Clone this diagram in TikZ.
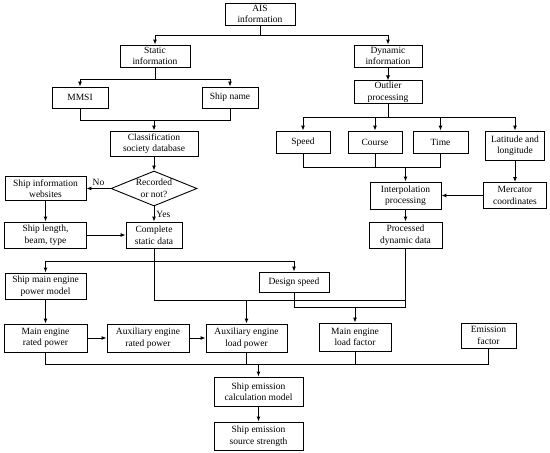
\documentclass[tikz,border=0pt]{standalone}
\usepackage{fontspec}
\setmainfont{Liberation Serif}
\usetikzlibrary{arrows.meta, shapes.geometric}

\tikzset{
  box/.style 2 args={rectangle, draw, line width=0.9pt, align=center, inner sep=1pt,
                     minimum width=#1, minimum height=#2, font=\fontsize{9.5}{11.5}\selectfont},
  decision/.style={diamond, draw, line width=0.9pt, align=center, inner sep=-2pt, aspect=2.46,
                   minimum width=86pt, minimum height=35pt, font=\fontsize{9.5}{11.5}\selectfont},
  arrow/.style={-{Latex[length=5pt, width=4pt]}, line width=0.9pt},
  link/.style={line width=0.9pt},
  tag/.style={font=\fontsize{9.5}{11.5}\selectfont, inner sep=2pt},
}

\begin{document}
\begin{tikzpicture}[x=1pt, y=-1pt]
  \useasboundingbox (0,0) rectangle (550,453);

  % AIS source
  \node[box={70pt}{22pt}] (ais) at (260,14) {AIS\\information};

  % Static branch
  \node[box={70pt}{22pt}] (static)   at (155,56)    {Static\\information};
  \node[box={56pt}{21pt}] (mmsi)     at (80,97.5)   {MMSI};
  \node[box={56pt}{21pt}] (shipname) at (230,97.5)  {Ship name};
  \node[box={88pt}{25pt}] (classdb)  at (154,143.5) {Classification\\society database};
  \node[decision]         (recorded) at (154,188.5) {Recorded\\or not?};
  \node[box={81pt}{24pt}] (shipweb)  at (45.5,188.5) {Ship information\\websites};
  \node[box={82pt}{26pt}] (shiplen)  at (45.5,235)  {Ship length,\\beam, type};
  \node[box={56pt}{26pt}] (complete) at (154,235)   {Complete\\static data};

  % Dynamic branch
  \node[box={68pt}{22pt}] (dynamic)   at (388,56)    {Dynamic\\information};
  \node[box={68pt}{22pt}] (outlier)   at (388,92)    {Outlier\\processing};
  \node[box={54pt}{22pt}] (speed)     at (303,142)   {Speed};
  \node[box={54pt}{22pt}] (course)    at (375,142)   {Course};
  \node[box={55pt}{22pt}] (time)      at (440.5,142) {Time};
  \node[box={59pt}{29pt}] (latlon)    at (515,145.5) {Latitude and\\longitude};
  \node[box={71pt}{27pt}] (interp)    at (405.5,195.5) {Interpolation\\processing};
  \node[box={63pt}{26pt}] (mercator)  at (515,195.5) {Mercator\\coordinates};
  \node[box={73pt}{26pt}] (processed) at (405.5,235) {Processed\\dynamic data};

  % Power and emission
  \node[box={81pt}{26pt}] (mepm)     at (45.5,286)  {Ship main engine\\power model};
  \node[box={70pt}{20pt}] (design)   at (294,282)   {Design speed};
  \node[box={83pt}{28pt}] (merated)  at (45.5,338)  {Main engine\\rated power};
  \node[box={82pt}{28pt}] (auxrated) at (148,338)   {Auxiliary engine\\rated power};
  \node[box={81pt}{28pt}] (auxload)  at (246.5,338) {Auxiliary engine\\load power};
  \node[box={72pt}{28pt}] (meload)   at (355,337)   {Main engine\\load factor};
  \node[box={55pt}{25pt}] (emisfac)  at (488.5,335.5) {Emission\\factor};
  \node[box={89pt}{29pt}] (calc)     at (258.5,391.5) {Ship emission\\calculation model};
  \node[box={89pt}{28pt}] (source)   at (258.5,436) {Ship emission\\source strength};

  \coordinate (emitbus) at (0,364);

  % Static connectors
  \draw[arrow] (ais.south) -- ++(0,10) -| (static);
  \draw[arrow] (ais.south) -- ++(0,10) -| (dynamic);
  \draw[arrow] (static.south) -- ++(0,12) -| (mmsi);
  \draw[arrow] (static.south) -- ++(0,12) -| (shipname);
  \draw[link] (mmsi.south) -- ++(0,12) -| (shipname.south);
  \draw[arrow] (mmsi.south) ++(0,12) -| (classdb);
  \draw[arrow] (classdb) -- (recorded);
  \draw[arrow] (recorded) -- node[tag, above]{No} (shipweb);
  \draw[arrow] (recorded) -- node[tag, right]{Yes} (complete);
  \draw[arrow] (shipweb) -- (shiplen);
  \draw[arrow] (shiplen) -- (complete);

  % Dynamic connectors
  \draw[arrow] (dynamic) -- (outlier);
  \draw[arrow] (outlier.south) -- ++(0,14) -| (speed);
  \draw[arrow] (outlier.south) -- ++(0,14) -| (course);
  \draw[arrow] (outlier.south) -- ++(0,14) -| (time);
  \draw[arrow] (outlier.south) -- ++(0,14) -| (latlon);
  \draw[link] (speed.south) -- ++(0,14) -| (time.south);
  \draw[link] (course.south) -- ++(0,14);
  \draw[arrow] (speed.south) ++(0,14) -| (interp);
  \draw[arrow] (latlon) -- (mercator);
  \draw[arrow] (mercator) -- (interp);
  \draw[arrow] (interp) -- (processed);

  % Data into the power models
  \draw[arrow] (complete.south) ++(0,13) -| (mepm);
  \draw[arrow] (complete.south) ++(0,13) -| (design);
  \draw[link] (complete.south) -- ++(0,52) -| (processed.south);
  \draw[arrow] (complete.south) ++(0,52) -| (auxload);
  \draw[link] (design.south) -- ++(0,15) -| (processed.south);
  \draw[arrow] (design.south) ++(0,15) -| (meload);
  \draw[arrow] (mepm) -- (merated);
  \draw[arrow] (merated) -- (auxrated);
  \draw[arrow] (auxrated) -- (auxload);

  % Emission model
  \draw[link] (merated.south) -- (merated.south |- emitbus) -| (emisfac.south);
  \draw[link] (auxload.south) -- (auxload.south |- emitbus);
  \draw[link] (meload.south) -- (meload.south |- emitbus);
  \draw[arrow] (calc |- emitbus) -- (calc);
  \draw[arrow] (calc) -- (source);
\end{tikzpicture}
\end{document}
